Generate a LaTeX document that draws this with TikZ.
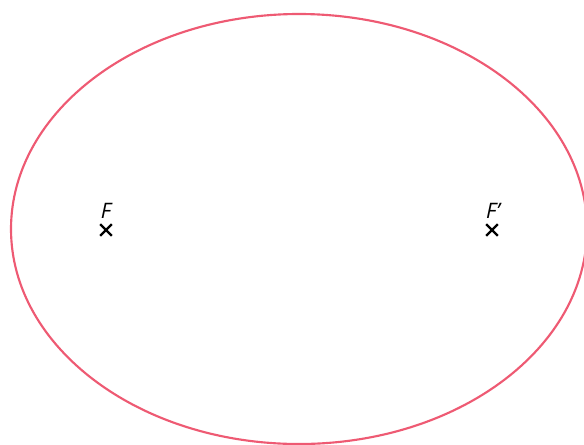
\documentclass[tikz,border=0pt]{standalone}
\usepackage{fontspec}
\setmainfont{Open Sans}
\usetikzlibrary{shapes.misc}
\definecolor{ellred}{RGB}{238,90,115}
\tikzset{
  focusmark/.style={draw=black, cross out, minimum size=7pt, inner sep=0pt, line width=1.7pt},
  focuslabel/.style={font=\fontsize{16}{19}\selectfont\itshape, inner sep=0pt, anchor=base},
  ellipseline/.style={draw=ellred, line width=1.6pt}
}
\begin{document}
\begin{tikzpicture}[x=0.75pt,y=-0.75pt]
\useasboundingbox (0,0) rectangle (584,444);
\clip (0,0) rectangle (584,444);
\draw[ellipseline] (299,229) ellipse [x radius=288, y radius=215];
\node[focusmark] (F) at (106,230) {};
\node[focusmark] (Fp) at (492,230) {};
\node[focuslabel] (Flab) at (106,218) {F};
\node[focuslabel] (Fplab) at (493,218) {F’};
\end{tikzpicture}
\end{document}
